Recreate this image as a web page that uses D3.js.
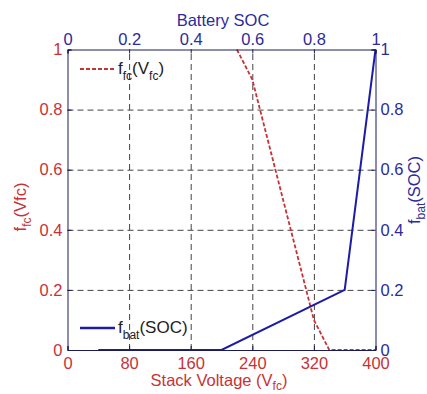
<!DOCTYPE html>
<html>
<head>
<meta charset="utf-8">
<script src="https://cdn.jsdelivr.net/npm/d3@7"></script>
<style>
  body { margin: 0; background: #fff; }
  svg { display: block; font-family: "Liberation Sans", Arial, sans-serif; }
  .grid line { stroke: #444; stroke-dasharray: 6,4; stroke-width: 1; }
  .grid path { display: none; }
</style>
</head>
<body>
<div class="chart"></div>
<script>
// fuel cell weight vs stack voltage
const fcVoltage = [220, 240, 320, 340, 400];
const fcWeight = [1, 0.9, 0.1, 0, 0];

// battery weight vs state of charge
const batSoc = [0.1, 0.5, 0.9, 1];
const batWeight = [0, 0, 0.2, 1];

const voltTicks = [0, 80, 160, 240, 320, 400];
const socTicks = [0, 0.2, 0.4, 0.6, 0.8, 1];
const weightTicks = [0, 0.2, 0.4, 0.6, 0.8, 1];

const red = "#c83236";
const blue = "#1c1ca8";
const blueText = "#2b2b9c";

const W = 427, H = 394;
const margin = { top: 49.5, right: 51.5, bottom: 44, left: 67.5 };
const width = W - margin.left - margin.right;
const height = H - margin.top - margin.bottom;

const svg = d3.select(".chart").append("svg")
  .attr("width", W).attr("height", H);

const g = svg.append("g")
  .attr("transform", `translate(${margin.left},${margin.top})`);

const x = d3.scaleLinear().domain([0, 400]).range([0, width]);
const xs = d3.scaleLinear().domain([0, 1]).range([0, width]);
const y = d3.scaleLinear().domain([0, 1]).range([height, 0]);

// grid
g.append("g").attr("class", "grid")
  .attr("transform", `translate(0,${height})`)
  .call(d3.axisBottom(xs).tickValues(socTicks.slice(1, -1)).tickSize(-height).tickFormat(""));
g.append("g").attr("class", "grid")
  .call(d3.axisLeft(y).tickValues(weightTicks.slice(1, -1)).tickSize(-width).tickFormat(""));

// curves
const fcData = fcVoltage.map((v, i) => ({ x: v, y: fcWeight[i] }));
const batData = batSoc.map((s, i) => ({ x: s, y: batWeight[i] }));

g.append("path").datum(fcData)
  .attr("fill", "none").attr("stroke", red).attr("stroke-width", 1.8)
  .attr("stroke-dasharray", "4,2")
  .attr("d", d3.line().x(d => x(d.x)).y(d => y(d.y)));

g.append("path").datum(batData)
  .attr("fill", "none").attr("stroke", blue).attr("stroke-width", 2)
  .attr("d", d3.line().x(d => xs(d.x)).y(d => y(d.y)));

// axes
const fmt = d => d === 0 || d === 1 ? d : d.toFixed(1);
function styleAxis(sel, color) {
  sel.select(".domain").attr("stroke", "#1a1a5a");
  sel.selectAll(".tick line").attr("stroke", "#1a1a5a");
  sel.selectAll("text").attr("fill", color).style("font-size", "16.5px")
    .style("font-family", "'Liberation Sans', Arial, sans-serif");
}

g.append("g").attr("transform", `translate(0,${height})`)
  .call(d3.axisBottom(x).tickValues(voltTicks).tickSize(-4).tickPadding(7).tickFormat(d3.format("d")))
  .call(s => styleAxis(s, red));

g.append("g")
  .call(d3.axisTop(xs).tickValues(socTicks).tickSize(-4).tickPadding(4.5).tickFormat(fmt))
  .call(s => styleAxis(s, blueText));

g.append("g")
  .call(d3.axisLeft(y).tickValues(weightTicks).tickSize(-4).tickPadding(5).tickFormat(fmt))
  .call(s => styleAxis(s, red));

g.append("g").attr("transform", `translate(${width},0)`)
  .call(d3.axisRight(y).tickValues(weightTicks).tickSize(-4).tickPadding(5).tickFormat(fmt))
  .call(s => styleAxis(s, blueText));

// axis titles
svg.append("text")
  .attr("x", 223).attr("y", 26).attr("text-anchor", "middle")
  .attr("fill", blueText).style("font-size", "16.5px")
  .text("Battery SOC");

const xt = svg.append("text")
  .attr("x", 219).attr("y", 386).attr("text-anchor", "middle")
  .attr("fill", red).style("font-size", "16.5px");
xt.append("tspan").text("Stack Voltage (V");
xt.append("tspan").attr("dy", 4).style("font-size", "12px").text("fc");
xt.append("tspan").attr("dy", -4).text(")");

const yl = svg.append("text")
  .attr("transform", "translate(26,207) rotate(-90)")
  .attr("text-anchor", "middle")
  .attr("fill", red).style("font-size", "16.5px");
yl.append("tspan").text("f");
yl.append("tspan").attr("dy", 5).style("font-size", "12px").text("fc");
yl.append("tspan").attr("dy", -5).text("(Vfc)");

const yr = svg.append("text")
  .attr("transform", "translate(420,190) rotate(-90)")
  .attr("text-anchor", "middle")
  .attr("fill", blueText).style("font-size", "16.5px");
yr.append("tspan").text("f");
yr.append("tspan").attr("dy", 5).style("font-size", "12px").text("bat");
yr.append("tspan").attr("dy", -5).text("(SOC)");

// legend entries
function legendEntry(ly, color, dash, main, sub, rest) {
  const lg = svg.append("g");
  lg.append("line")
    .attr("x1", 80).attr("x2", 115).attr("y1", ly).attr("y2", ly)
    .attr("stroke", color).attr("stroke-width", dash ? 2.2 : 2.6)
    .attr("stroke-dasharray", dash ? "4,2" : null);
  const t = lg.append("text").attr("x", 118).attr("y", ly + 5)
    .attr("fill", "#222").style("font-size", "17px");
  t.append("tspan").text(main);
  t.append("tspan").attr("dy", 6).style("font-size", "12px").text(sub);
  rest(t);
}

legendEntry(69, red, true, "f", "fc", t => {
  t.append("tspan").attr("dy", -6).text("(V");
  t.append("tspan").attr("dy", 6).style("font-size", "12px").text("fc");
  t.append("tspan").attr("dy", -6).text(")");
});
legendEntry(328, blue, false, "f", "bat", t => {
  t.append("tspan").attr("dy", -6).text("(SOC)");
});
</script>
</body>
</html>
